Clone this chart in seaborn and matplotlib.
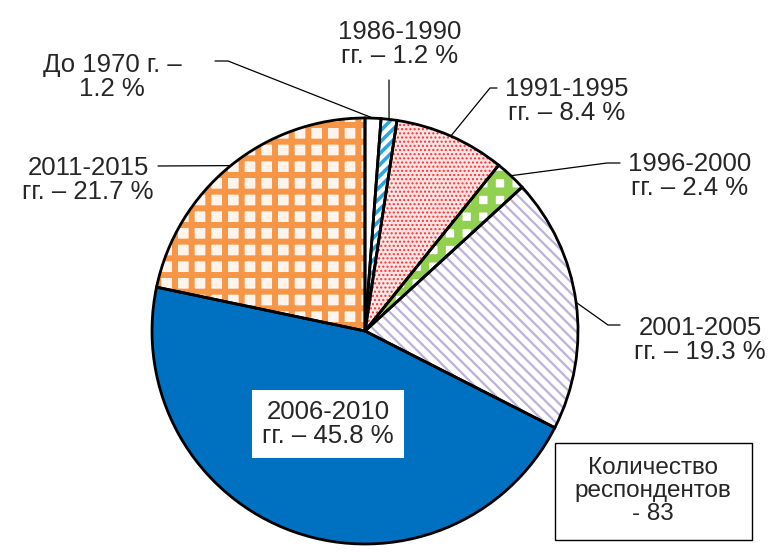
import numpy as np
import matplotlib
matplotlib.use("Agg")
import matplotlib.pyplot as plt
import matplotlib.patches as mpatches
import seaborn as sns

# data
periods = ["До 1970", "1986-1990", "1991-1995", "1996-2000", "2001-2005", "2006-2010", "2011-2015"]
shares = [1.2, 1.2, 8.4, 2.4, 19.3, 45.8, 21.7]
label_texts = [
    "До 1970 г. –\n1.2 %",
    "1986-1990\nгг. – 1.2 %",
    "1991-1995\nгг. – 8.4 %",
    "1996-2000\nгг. – 2.4 %",
    "2001-2005\nгг. – 19.3 %",
    "2006-2010\nгг. – 45.8 %",
    "2011-2015\nгг. – 21.7 %",
]
respondents = 83

# styling per wedge: face, hatch colour, hatch, hatch linewidth
faces = ["white", "white", "#FFE6E6", "white", "white", "#0070C0", "#FFF4EC"]
hatch_cols = ["white", "#2AA6DF", "#FF3030", "#92D050", "#BCB1DA", "#0070C0", "#F79646"]
hatches = [None, "///", "....", "+", "\\\\\\", None, "+"]
hatch_lws = [1, 2.6, 1.0, 6.0, 1.6, 1, 4.3]

W, H = 780, 555
cx, cy, R = 365, 331, 213


def px(x, y):
    return x, H - y


sns.set_style("white")
plt.rcParams["font.family"] = ["Liberation Sans", "DejaVu Sans"]
plt.rcParams["hatch.linewidth"] = 1.0

fig = plt.figure(figsize=(7.8, 5.55), dpi=100)
ax = fig.add_axes([0, 0, 1, 1])

center = px(cx, cy)

# filled / hatched layer
wedges, _ = ax.pie(shares, startangle=90, counterclock=False, center=center, radius=R,
                   colors=faces, wedgeprops=dict(linewidth=0))
for w, hc, hh, lw in zip(wedges, hatch_cols, hatches, hatch_lws):
    if hh:
        w.set_hatch(hh)
        w.set_edgecolor(hc)
        w.set_linewidth(0)
        if hasattr(w, "set_hatch_linewidth"):
            w.set_hatch_linewidth(lw)
        else:
            w._hatch_linewidth = lw

# outline layer
outl, _ = ax.pie(shares, startangle=90, counterclock=False, center=center, radius=R,
                 wedgeprops=dict(fill=False, edgecolor="black", linewidth=2.0))

ax.set_xlim(0, W)
ax.set_ylim(0, H)
ax.set_aspect("equal")
ax.axis("off")

# label positions (pixel, from top) and leader elbows
label_pos = [(112, 77), (400, 44), (567, 101), (690, 176), (700, 340), (328, 424), (88, 180)]
elbows = [[(228, 61), (215, 61)], [(389, 80)], [(490, 88), (497, 88)],
          [(607, 163), (620, 163)], [(608, 325), (620, 325)], None, [(158, 166)]]

for i, w in enumerate(outl):
    mid = np.deg2rad((w.theta1 + w.theta2) / 2)
    rx = center[0] + R * np.cos(mid)
    ry = center[1] + R * np.sin(mid)
    tx, ty = px(*label_pos[i])
    if elbows[i] is not None:
        pts = [(rx, ry)] + [px(*p) for p in elbows[i]]
        xs, ys = zip(*pts)
        ax.plot(xs, ys, color="black", lw=0.9, zorder=5)
        ax.text(tx, ty, label_texts[i], ha="center", va="center", fontsize=18.5,
                linespacing=1.0, zorder=6)
    else:
        ax.text(tx, ty, label_texts[i], ha="center", va="center", fontsize=18.5,
                linespacing=1.0, zorder=6,
                bbox=dict(boxstyle="square,pad=0.4", facecolor="white", edgecolor="none"))

# respondents box
bx0, by0 = px(555, 540)
ax.add_patch(mpatches.Rectangle((bx0, by0), 752 - 555, 540 - 443, facecolor="white",
                                edgecolor="black", lw=1.0, zorder=6))
ax.text(*px(653, 491), "Количество\nреспондентов\n- %d" % respondents, ha="center", va="center",
        fontsize=17.5, linespacing=1.05, zorder=7)

fig.savefig("out.png", dpi=100, facecolor="white")
